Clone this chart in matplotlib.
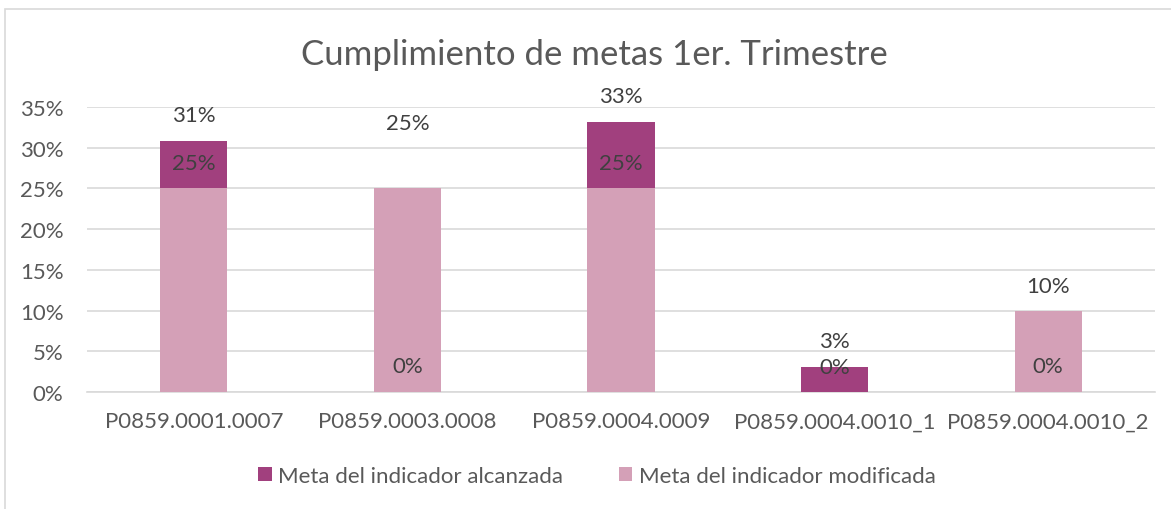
import matplotlib
matplotlib.use("Agg")
import matplotlib.pyplot as plt
import matplotlib.ticker as ticker
from matplotlib.patches import Rectangle, Patch

categories = ["P0859.0001.0007", "P0859.0003.0008", "P0859.0004.0009",
              "P0859.0004.0010_1", "P0859.0004.0010_2"]
alcanzada = [0.308, 0.0, 0.331, 0.031, 0.0]
modificada = [0.25, 0.25, 0.25, 0.0, 0.10]
alcanzada_labels = ["31%", "0%", "33%", "3%", "0%"]
modificada_labels = ["25%", "25%", "25%", "0%", "10%"]
yticks = [0, 0.05, 0.10, 0.15, 0.20, 0.25, 0.30, 0.35]

DARK = "#A1407E"
LIGHT = "#D4A0B7"
GRID = "#D9D9D9"
TEXT = "#595959"
LABEL = "#404040"
FS = 16

plt.rcParams["font.family"] = ["Lato", "DejaVu Sans"]

fig = plt.figure(figsize=(11.71, 5.10), dpi=100)
fig.patch.set_facecolor("white")
# chart-area border like Excel
fig.patches.append(Rectangle((5 / 1171, -0.1), 1.2, 1 - 10 / 510 + 0.1,
                             transform=fig.transFigure, fill=False,
                             edgecolor=GRID, linewidth=1.2))

ax = fig.add_axes([0.0743, 0.2294, 0.912, 0.5588])
x = list(range(len(categories)))
width = 0.314
ax.bar(x, alcanzada, width=width, color=DARK, zorder=2)
ax.bar(x, modificada, width=width, color=LIGHT, zorder=3)

ax.set_xlim(-0.5, len(categories) - 0.5)
ax.set_ylim(0, 0.35)
ax.set_yticks(yticks)
ax.yaxis.set_major_formatter(ticker.FuncFormatter(lambda v, p: f"{v * 100:.0f}%"))
ax.set_xticks(x)
ax.set_xticklabels(categories)
ax.tick_params(axis="both", length=0, labelsize=FS, colors=TEXT)
ax.tick_params(axis="y", pad=17)
ax.tick_params(axis="x", pad=14)

ax.yaxis.grid(True, color=GRID, linewidth=1.2, zorder=0)
ax.set_axisbelow(True)
for s in ["top", "right", "left"]:
    ax.spines[s].set_visible(False)
ax.spines["bottom"].set_color(GRID)
ax.spines["bottom"].set_linewidth(1.2)
ax.spines["bottom"].set_zorder(1)

# data labels (outside end); the second category's label was moved up in the original
px = 72 / 100
extra = {1: 40}
for i in x:
    ax.annotate(alcanzada_labels[i], (i, alcanzada[i]), xytext=(0, 26 * px),
                textcoords="offset points", ha="center", va="center",
                fontsize=FS, color=LABEL, zorder=5)
    ax.annotate(modificada_labels[i], (i, modificada[i]),
                xytext=(0, (25 + extra.get(i, 0)) * px),
                textcoords="offset points", ha="center", va="center",
                fontsize=FS, color=LABEL, zorder=5)

fig.text(0.508, 0.892, "Cumplimiento de metas 1er. Trimestre",
         ha="center", va="center", fontsize=25, color=TEXT)

handles = [Patch(facecolor=DARK), Patch(facecolor=LIGHT)]
fig.legend(handles, ["Meta del indicador alcanzada", "Meta del indicador modificada"],
           loc="center", bbox_to_anchor=(0.51, 0.065), ncol=2, frameon=False,
           fontsize=FS, labelcolor=TEXT, handlelength=0.6, handleheight=0.6,
           handletextpad=0.3, columnspacing=2.5)

fig.savefig("out.png", dpi=100)
